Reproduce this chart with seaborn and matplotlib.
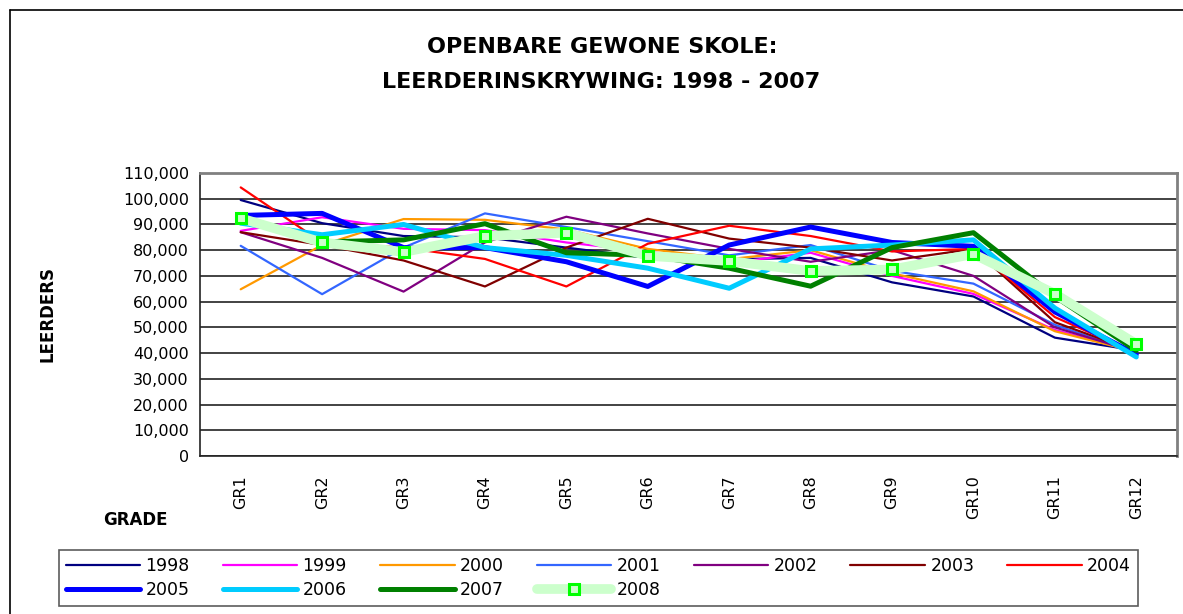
import matplotlib
matplotlib.use("Agg")
import matplotlib.pyplot as plt
import matplotlib.ticker as mticker
from matplotlib.lines import Line2D
import seaborn as sns
import pandas as pd

# grade kategorieë
grade = ["GR1", "GR2", "GR3", "GR4", "GR5", "GR6", "GR7", "GR8", "GR9", "GR10", "GR11", "GR12"]

# leerders per jaar (afgelees van die grafiek)
j1998 = [99500, 90500, 85500, 85000, 81000, 77000, 76500, 77000, 67500, 62000, 46000, 41000]
j1999 = [87500, 92800, 88300, 87800, 83000, 79500, 75000, 79000, 70000, 63000, 49000, 40500]
j2000 = [64800, 82000, 92100, 91800, 88000, 80500, 76500, 80000, 71000, 64000, 48500, 40500]
j2001 = [81700, 62900, 81000, 94300, 89000, 83500, 78000, 82000, 72000, 67000, 51000, 40000]
j2002 = [87000, 77000, 63900, 83000, 93000, 86500, 80500, 75500, 80000, 70000, 50000, 40500]
j2003 = [87000, 82000, 76000, 65900, 81000, 92200, 84500, 81000, 76000, 80500, 52000, 40500]
j2004 = [104400, 83000, 81000, 76600, 65900, 82500, 89500, 85500, 79500, 80500, 54000, 40000]
j2005 = [93500, 94300, 81000, 81000, 75500, 65900, 82000, 89000, 83000, 81500, 56000, 39500]
j2006 = [90500, 86000, 90000, 81000, 78000, 73000, 65200, 80500, 82000, 84000, 57500, 38500]
j2007 = [92000, 83200, 84000, 90300, 79000, 78000, 73000, 66000, 81000, 86800, 62000, 41000]
j2008 = [92400, 83000, 79300, 85500, 86800, 77800, 75800, 71900, 72500, 78500, 63000, 43500]

reekse = {
    "1998": j1998, "1999": j1999, "2000": j2000, "2001": j2001,
    "2002": j2002, "2003": j2003, "2004": j2004, "2005": j2005,
    "2006": j2006, "2007": j2007, "2008": j2008,
}

# styl per reeks: kleur, lynwydte
style = {
    "1998": ("#000080", 1.6),
    "1999": ("#FF00FF", 1.6),
    "2000": ("#FF9900", 1.6),
    "2001": ("#3366FF", 1.6),
    "2002": ("#800080", 1.6),
    "2003": ("#800000", 1.6),
    "2004": ("#FF0000", 1.6),
    "2005": ("#0000FF", 3.6),
    "2006": ("#00CCFF", 3.6),
    "2007": ("#008000", 3.6),
    "2008": ("#CCFFCC", 7.0),
}

sns.set_style("white")
plt.rcParams["font.family"] = ["DejaVu Sans"]
plt.rcParams["text.color"] = "black"
plt.rcParams["xtick.color"] = "black"
plt.rcParams["ytick.color"] = "black"

fig = plt.figure(figsize=(11.83, 6.14), dpi=100)
ax = fig.add_axes([200 / 1183, 1 - 456 / 614, 977 / 1183, 283 / 614])

for jaar, waardes in reekse.items():
    df = pd.DataFrame({"Grade": grade, "Leerders": waardes})
    kleur, lw = style[jaar]
    if jaar == "2008":
        sns.lineplot(data=df, x="Grade", y="Leerders", ax=ax, color=kleur, linewidth=lw,
                     marker="s", markersize=7, markerfacecolor="#CCFFCC",
                     markeredgecolor="#00FF00", markeredgewidth=2.2, label=jaar)
    else:
        sns.lineplot(data=df, x="Grade", y="Leerders", ax=ax, color=kleur, linewidth=lw, label=jaar)

ax.set_xlim(-0.5, 11.5)
ax.set_ylim(0, 110000)
ax.set_yticks(range(0, 110001, 10000))
ax.yaxis.set_major_formatter(mticker.FuncFormatter(lambda v, p: f"{int(v):,}"))
ax.grid(axis="y", color="#222222", linewidth=1.2)
ax.grid(axis="x", visible=False)
ax.set_axisbelow(True)

for s in ["top", "right"]:
    ax.spines[s].set_color("#808080")
    ax.spines[s].set_linewidth(2)
for s in ["left", "bottom"]:
    ax.spines[s].set_color("#222222")
    ax.spines[s].set_linewidth(1.2)

ax.set_xticks(range(len(grade)))
ax.set_xticklabels(grade, rotation=90, fontsize=11.5)
ax.set_xticks([i - 0.5 for i in range(len(grade) + 1)], minor=True)
ax.tick_params(axis="x", which="major", length=0, pad=14)
ax.tick_params(axis="x", which="minor", length=7, width=1.2, color="#222222", direction="out")
ax.tick_params(axis="y", length=5, width=1.2, color="#222222", direction="out", labelsize=11.5, pad=3)
ax.set_xlabel("")
ax.set_ylabel("")

leg = ax.get_legend()
if leg:
    leg.remove()

fig.text(602 / 1183, 1 - 47 / 614, "OPENBARE GEWONE SKOLE:", ha="center", va="center",
         fontsize=16, fontweight="bold")
fig.text(601 / 1183, 1 - 82 / 614, "LEERDERINSKRYWING: 1998 - 2007", ha="center", va="center",
         fontsize=16, fontweight="bold")
fig.text(48 / 1183, 1 - 314 / 614, "LEERDERS", rotation=90, ha="center", va="center",
         fontsize=12, fontweight="bold")
fig.text(135 / 1183, 1 - 520 / 614, "GRADE", ha="center", va="center",
         fontsize=12, fontweight="bold")

# legende: volgorde so dat rye 1998-2004 en 2005-2008 is (matplotlib vul kolom-eerste)
volgorde = ["1998", "2005", "1999", "2006", "2000", "2007", "2001", "2008", "2002", "2003", "2004"]
handles, labels = [], []
for jaar in volgorde:
    kleur, lw = style[jaar]
    if jaar == "2008":
        h = Line2D([], [], color=kleur, linewidth=lw, marker="s", markersize=7,
                   markerfacecolor="#CCFFCC", markeredgecolor="#00FF00", markeredgewidth=2.2)
    else:
        h = Line2D([], [], color=kleur, linewidth=lw)
    handles.append(h)
    labels.append(jaar)

lg = fig.legend(handles, labels, ncol=7, loc="upper left",
                bbox_to_anchor=(50 / 1183, 1 - 541 / 614), frameon=True, fontsize=12.5,
                handlelength=4.3, handletextpad=0.3, columnspacing=1.9,
                borderpad=0.4, labelspacing=0.35, fancybox=False)
lg.get_frame().set_edgecolor("#333333")
lg.get_frame().set_linewidth(1.2)

# buitenste raam
fig.add_artist(Line2D([10 / 1183, 1], [1 - 10 / 614, 1 - 10 / 614], color="black", linewidth=1.2))
fig.add_artist(Line2D([10 / 1183, 10 / 1183], [0, 1 - 10 / 614], color="black", linewidth=1.2))

fig.savefig("out.png", dpi=100)
